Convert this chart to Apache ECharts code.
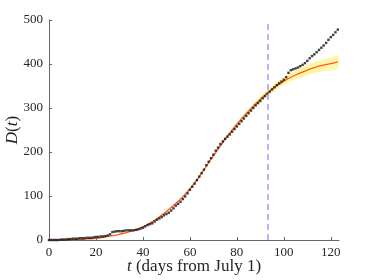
<!DOCTYPE html>
<html>
<head>
<meta charset="utf-8">
<script src="https://cdn.jsdelivr.net/npm/echarts@6/dist/echarts.min.js"></script>
<style>html,body{margin:0;padding:0;background:#fff}#c{width:374px;height:280px}</style>
</head>
<body>
<div id="c"></div>
<script>
// Observed data D(t), daily from t = 0
const obsD = [0,0,0,0,0,1,1,1,2,2,3,3,3,4,4,4,5,5,5,6,
  7,7,8,8,9,10,13,18,19,20,20,20,21,22,22,22,22,23,24,26,
  28,31,34,36,38,42,46,49,52,56,59,62,67,72,78,82,87,93,99,106,
  114,121,128,136,144,152,160,170,178,186,194,203,210,218,224,230,235,240,246,252,
  258,264,270,276,282,288,294,300,306,311,316,322,327,332,337,342,347,352,356,360,
  364,370,380,386,388,390,392,395,398,402,407,413,418,422,427,432,437,442,448,455,
  461,466,472,478];
// Fitted curve and its band
const fitT = [0,5,10,15,20,25,30,35,40,45,50,55,60,65,70,75,80,85,90,95,100,105,110,115,120,123];
const fitD = [0,0.5,1,2,4,8,13,20,30,45,65,88,116,152,191,229,263,293,320,343,361,375,386,395,401,405];
const bandHalf = [0,0,0.3,0.5,0.7,0.8,1,1,1.2,1.5,1.8,2,2.3,2.7,3,3.5,4.5,5.5,6.5,8,9,10.5,12,13,14.5,15];
const cutoffT = 93;
const xTicks = [0,20,40,60,80,100,120];
const yTicks = [0,100,200,300,400,500];

const obsPts = obsD.map((d,i)=>[i,d]);
const fitPts = fitT.map((t,i)=>[t,fitD[i]]);

const chart = echarts.init(document.getElementById('c'));
const serif = 'Liberation Serif';
chart.setOption({
  animation:false,
  grid:{left:49,right:35,top:20,bottom:40,containLabel:false,outerBoundsMode:'none'},
  xAxis:{type:'value',min:0,max:123.5,interval:20,
    axisLine:{lineStyle:{color:'#666',width:1}},
    axisTick:{inside:true,length:3,customValues:xTicks,lineStyle:{color:'#666'}},
    axisLabel:{customValues:xTicks,color:'#262626',fontFamily:serif,fontSize:13,margin:6},
    splitLine:{show:false},
    name:'{i|t} (days from July 1)',nameLocation:'middle',nameGap:18,nameMoveOverlap:false,
    nameTextStyle:{color:'#262626',fontFamily:serif,fontSize:17,
      rich:{i:{fontStyle:'italic',fontFamily:serif,fontSize:17,color:'#262626'}}}
  },
  yAxis:{type:'value',min:0,max:500,interval:100,
    axisLine:{show:true,lineStyle:{color:'#666',width:1}},
    axisTick:{show:true,inside:true,length:3,lineStyle:{color:'#666'}},
    axisLabel:{color:'#262626',fontFamily:serif,fontSize:13,margin:6},
    splitLine:{show:false},
    name:'{i|D}({i|t})',nameLocation:'middle',nameGap:28,nameRotate:90,nameMoveOverlap:false,
    nameTextStyle:{color:'#262626',fontFamily:serif,fontSize:17,
      rich:{i:{fontStyle:'italic',fontFamily:serif,fontSize:17,color:'#262626'}}}
  },
  series:[
    {type:'custom',data:[0],z:1,silent:true,
      renderItem:function(params,api){
        const pts=[];
        for(let i=0;i<fitT.length;i++) pts.push(api.coord([fitT[i],fitD[i]+bandHalf[i]]));
        for(let i=fitT.length-1;i>=0;i--) pts.push(api.coord([fitT[i],fitD[i]-bandHalf[i]]));
        return {type:'polygon',shape:{points:pts,smooth:0.3},style:{fill:'#fff59a',opacity:0.85}};
      }},
    {type:'line',data:fitPts,smooth:true,showSymbol:false,z:3,
      lineStyle:{color:'#ff5a24',width:1.3}},
    {type:'scatter',data:obsPts,symbol:'rect',symbolSize:2.4,z:4,
      itemStyle:{color:'#111'}},
    {type:'line',data:[],z:5,
      markLine:{silent:true,symbol:['none','none'],label:{show:false},
        lineStyle:{color:'#9d9dff',type:[6,4],width:1.5},
        data:[{xAxis:cutoffT}]}}
  ]
});
</script>
</body>
</html>
